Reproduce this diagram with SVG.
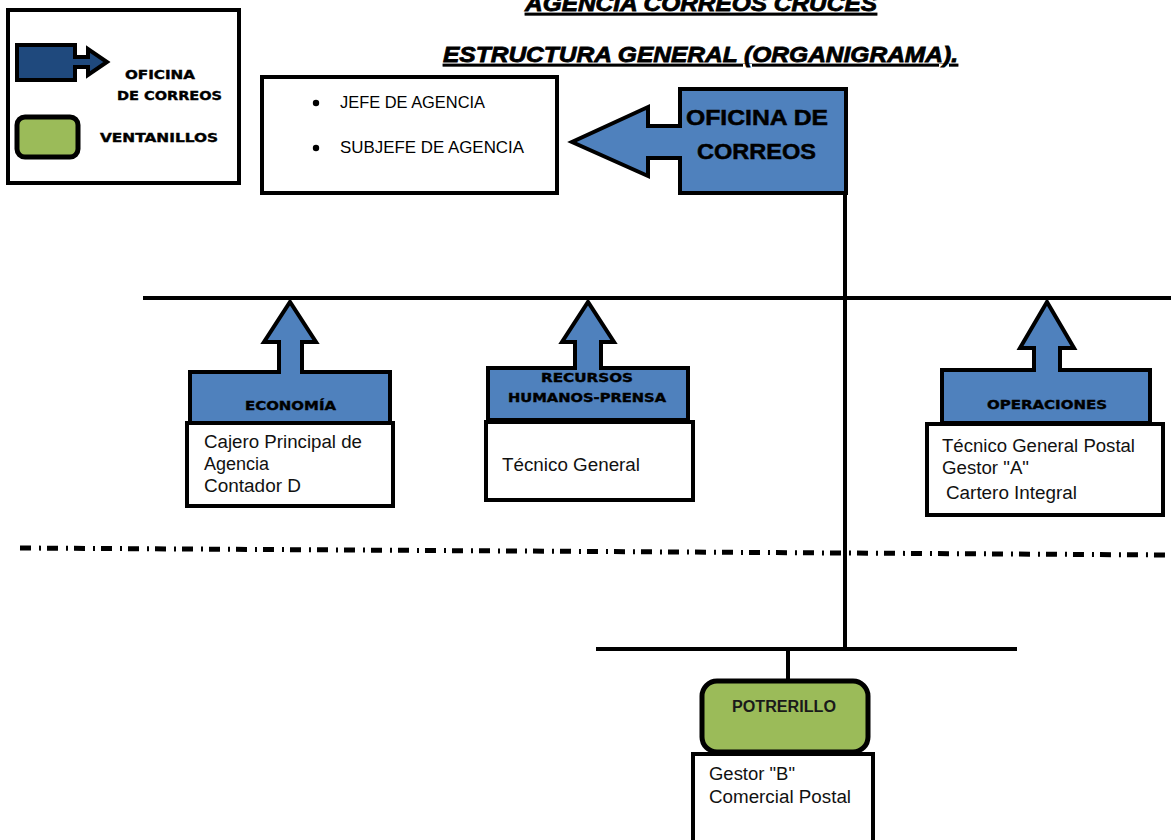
<svg xmlns="http://www.w3.org/2000/svg" width="1171" height="840" viewBox="0 0 1171 840">
<style>
.box{fill:#fff;stroke:#000;stroke-width:4}
.blue{fill:#4F81BD;stroke:#000;stroke-width:4;stroke-linejoin:miter}
.green{fill:#9BBB59;stroke:#000;stroke-width:5}
.ln{stroke:#000;stroke-width:4;fill:none}
.title{font-family:"Liberation Sans",Arial,sans-serif;font-weight:bold;font-style:italic;font-size:22px;text-decoration:underline;stroke:#000;stroke-width:0.8}
.wide{font-family:"DejaVu Sans",Verdana,sans-serif;font-weight:bold;font-size:12.5px;fill:#000;stroke:#000;stroke-width:0.4}
.body{font-family:"Liberation Sans",Arial,sans-serif;font-size:18px;fill:#111}
.hdr{font-family:"Liberation Sans",Arial,sans-serif;font-weight:bold;font-size:22px;fill:#000;stroke:#000;stroke-width:0.5}
.bul{font-family:"Liberation Sans",Arial,sans-serif;font-size:17px;fill:#000}
</style>
<rect width="1171" height="840" fill="#fff"/>
<text class="title" x="701" y="11" text-anchor="middle" textLength="352" lengthAdjust="spacingAndGlyphs">AGENCIA CORREOS CRUCES</text>
<text class="title" x="443" y="62" textLength="515" lengthAdjust="spacingAndGlyphs">ESTRUCTURA GENERAL (ORGANIGRAMA).</text>

<g id="legend">
<rect class="box" x="8" y="10" width="231" height="173"/>
<polygon points="17,45 75,45 75,57 88,57 88,49 107,62 88,75 88,67 75,67 75,80 17,80" fill="#1F497D" stroke="#000" stroke-width="4"/>
<line x1="74" y1="62" x2="98" y2="62" stroke="#1F497D" stroke-width="2"/>
<rect x="17" y="117" width="61" height="40" rx="8" class="green" stroke-width="4"/>
<text class="wide" x="125" y="79" textLength="70" lengthAdjust="spacingAndGlyphs">OFICINA</text>
<text class="wide" x="117" y="100" textLength="105" lengthAdjust="spacingAndGlyphs">DE CORREOS</text>
<text class="wide" x="100" y="142" textLength="118" lengthAdjust="spacingAndGlyphs">VENTANILLOS</text>
</g>

<g id="connectors">
<line class="ln" x1="845" y1="190" x2="845" y2="651"/>
<line class="ln" x1="143" y1="298" x2="1171" y2="298"/>
<line class="ln" x1="596" y1="649" x2="1017" y2="649"/>
<line class="ln" x1="788" y1="649" x2="788" y2="682"/>
<line x1="20" y1="548" x2="1171" y2="555" stroke="#000" stroke-width="5" stroke-dasharray="11 8 2 6"/>
</g>

<g id="jefatura">
<rect class="box" x="262" y="77" width="295" height="116"/>
<circle cx="316" cy="103" r="3.2" fill="#000"/>
<circle cx="316" cy="148" r="3.2" fill="#000"/>
<text class="bul" x="340" y="108" textLength="145" lengthAdjust="spacingAndGlyphs">JEFE DE AGENCIA</text>
<text class="bul" x="340" y="153" textLength="184" lengthAdjust="spacingAndGlyphs">SUBJEFE DE AGENCIA</text>
</g>

<g id="oficina">
<polygon class="blue" points="680,89 846,89 846,193 680,193 680,158 648,158 648,176 572,142 648,107 648,126 680,126"/>
<text class="hdr" x="686" y="125" textLength="142" lengthAdjust="spacingAndGlyphs">OFICINA DE</text>
<text class="hdr" x="697" y="159" textLength="119" lengthAdjust="spacingAndGlyphs">CORREOS</text>
</g>

<g id="economia">
<polygon class="blue" points="190,423 190,372 279,372 279,342 264,342 290,302 316,342 302,342 302,372 390,372 390,423"/>
<rect class="box" x="187" y="423" width="206" height="83"/>
<text class="wide" x="245" y="410" textLength="91" lengthAdjust="spacingAndGlyphs">ECONOMÍA</text>
<text class="body" x="204" y="448" textLength="158" lengthAdjust="spacingAndGlyphs">Cajero Principal de</text>
<text class="body" x="204" y="470">Agencia</text>
<text class="body" x="204" y="492" textLength="97" lengthAdjust="spacingAndGlyphs">Contador D</text>
</g>

<g id="recursos">
<polygon class="blue" points="488,420 488,368 575,368 575,342 562,342 588,302 614,342 601,342 601,368 688,368 688,420"/>
<rect class="box" x="486" y="422" width="207" height="78"/>
<text class="wide" x="541" y="382" textLength="92" lengthAdjust="spacingAndGlyphs">RECURSOS</text>
<text class="wide" x="508" y="402" textLength="158" lengthAdjust="spacingAndGlyphs">HUMANOS-PRENSA</text>
<text class="body" x="502" y="471" textLength="138" lengthAdjust="spacingAndGlyphs">Técnico General</text>
</g>

<g id="operaciones">
<polygon class="blue" points="942,423 942,370 1034,370 1034,348 1020,348 1047,302 1074,348 1060,348 1060,370 1150,370 1150,423"/>
<rect class="box" x="927" y="424" width="236" height="91"/>
<text class="wide" x="987" y="409" textLength="120" lengthAdjust="spacingAndGlyphs">OPERACIONES</text>
<text class="body" x="942" y="452" textLength="193" lengthAdjust="spacingAndGlyphs">Técnico General Postal</text>
<text class="body" x="942" y="474" textLength="87" lengthAdjust="spacingAndGlyphs">Gestor "A"</text>
<text class="body" x="946" y="499" textLength="131" lengthAdjust="spacingAndGlyphs">Cartero Integral</text>
</g>

<g id="potrerillo">
<rect class="green" x="702" y="681" width="166" height="71" rx="15"/>
<rect class="box" x="693" y="754" width="180" height="90"/>
<text x="732" y="712" textLength="104" lengthAdjust="spacingAndGlyphs" font-family="'Liberation Sans',Arial,sans-serif" font-weight="bold" font-size="16" fill="#1a1a1a">POTRERILLO</text>
<text class="body" x="709" y="780" textLength="86" lengthAdjust="spacingAndGlyphs">Gestor "B"</text>
<text class="body" x="709" y="803" textLength="142" lengthAdjust="spacingAndGlyphs">Comercial Postal</text>
</g>
</svg>
